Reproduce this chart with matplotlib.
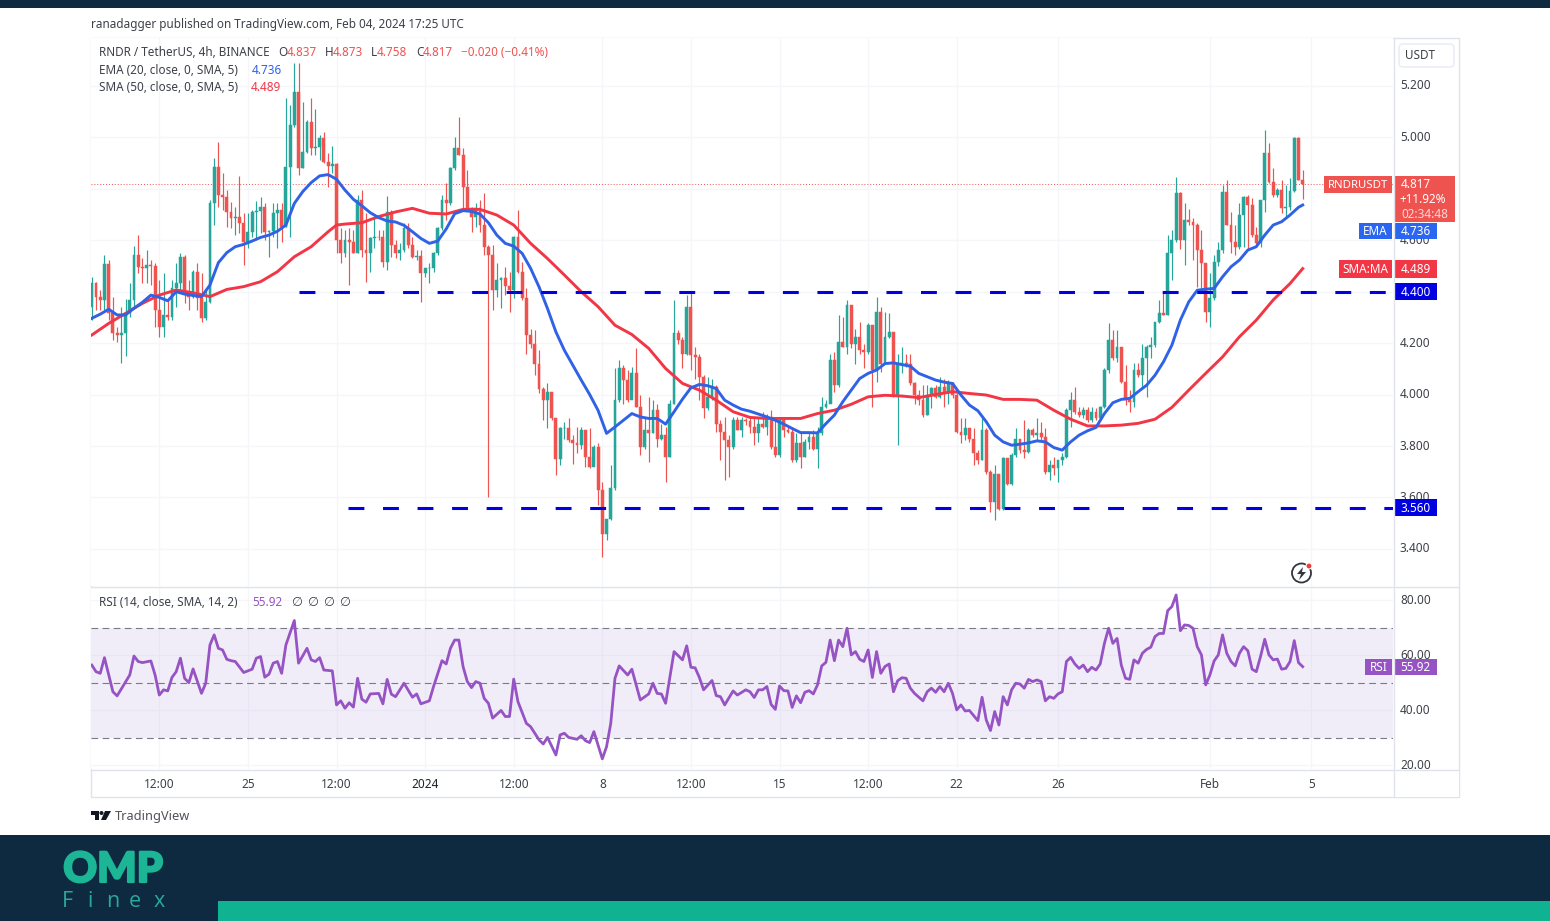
import numpy as np
import matplotlib
matplotlib.use("Agg")
import matplotlib.pyplot as plt
import matplotlib.patheffects as pe
from matplotlib.patches import Rectangle, FancyBboxPatch, Polygon, Circle

plt.rcParams['font.family'] = ['Noto Sans', 'DejaVu Sans']

first_open = 4.341
close = [
 4.432,4.380,4.367,4.507,4.315,4.237,4.231,4.240,4.315,4.367,
 4.542,4.496,4.490,4.503,4.499,4.328,4.263,4.309,4.300,4.412,
 4.432,4.535,4.393,4.380,4.477,4.373,4.296,4.360,4.742,4.885,
 4.775,4.768,4.710,4.684,4.690,4.667,4.594,4.632,4.710,4.712,
 4.730,4.632,4.634,4.704,4.717,4.652,4.885,5.047,5.176,4.878,
 4.943,5.060,4.956,4.963,4.995,4.904,4.887,4.895,4.600,4.548,
 4.600,4.594,4.548,4.755,4.561,4.548,4.606,4.613,4.611,4.516,
 4.710,4.581,4.548,4.561,4.645,4.581,4.535,4.538,4.471,4.490,
 4.492,4.548,4.645,4.755,4.742,4.878,4.956,4.930,4.807,4.723,
 4.691,4.723,4.658,4.574,4.540,4.405,4.444,4.451,4.420,4.405,
 4.613,4.477,4.373,4.230,4.198,4.120,4.023,3.978,4.010,3.907,
 3.751,3.868,3.870,3.823,3.810,3.803,3.861,3.758,3.719,3.797,
 3.628,3.460,3.518,3.635,3.978,4.101,4.056,3.978,4.082,3.952,
 3.797,3.861,3.850,3.939,3.829,3.842,3.758,3.965,4.237,4.211,
 4.159,4.341,4.153,4.146,4.069,3.946,3.991,4.030,3.887,3.855,
 3.823,3.797,3.900,3.861,3.900,3.898,3.874,3.849,3.887,3.874,
 3.913,3.797,3.764,3.900,3.861,3.855,3.745,3.810,3.758,3.816,
 3.836,3.790,3.849,3.952,3.965,4.133,4.036,4.205,4.185,4.347,
 4.198,4.224,4.172,4.166,4.269,4.095,4.321,4.120,4.224,4.243,
 3.997,4.120,4.123,4.120,4.043,3.997,3.978,3.920,3.998,4.024,
 3.991,4.030,4.010,4.043,3.998,3.855,3.842,3.868,3.829,3.771,
 3.745,3.862,3.700,3.583,3.693,3.557,3.752,3.654,3.764,3.829,
 3.784,3.777,3.862,3.842,3.849,3.836,3.700,3.726,3.713,3.745,
 3.758,3.939,3.978,3.933,3.920,3.939,3.900,3.933,3.907,3.952,
 4.095,4.211,4.140,4.185,4.049,3.978,3.972,4.095,4.075,4.140,
 4.185,4.192,4.282,4.315,4.308,4.548,4.600,4.781,4.600,4.678,
 4.671,4.658,4.561,4.509,4.321,4.373,4.516,4.561,4.788,4.658,
 4.593,4.574,4.697,4.768,4.736,4.619,4.587,4.755,4.937,4.826,
 4.775,4.794,4.723,4.727,4.791,4.995,4.833,4.817]
high = [
 4.457,4.438,4.406,4.542,4.522,4.380,4.263,4.340,4.370,4.432,
 4.577,4.620,4.529,4.561,4.522,4.509,4.445,4.470,4.367,4.445,
 4.509,4.548,4.542,4.445,4.483,4.509,4.470,4.412,4.755,4.917,
 4.982,4.859,4.794,4.749,4.730,4.849,4.704,4.704,4.717,4.752,
 4.768,4.742,4.639,4.742,4.742,4.742,5.150,5.124,5.286,5.286,
 5.137,5.066,5.150,5.110,5.008,5.021,4.937,4.965,4.898,4.645,
 4.639,4.645,4.639,4.775,4.794,4.704,4.613,4.684,4.639,4.639,
 4.771,4.717,4.600,4.587,4.665,4.665,4.613,4.561,4.561,4.490,
 4.509,4.555,4.652,4.775,4.820,4.885,5.001,5.079,4.956,4.872,
 4.730,4.742,4.755,4.781,4.580,4.580,4.509,4.457,4.496,4.477,
 4.615,4.716,4.515,4.412,4.256,4.250,4.172,4.030,4.043,4.010,
 3.907,3.874,3.894,3.907,3.842,3.874,3.874,3.829,3.868,3.803,
 3.810,3.660,3.518,3.725,4.101,4.133,4.114,4.094,4.108,4.179,
 3.997,3.907,3.991,3.978,3.965,3.887,3.874,3.978,4.367,4.250,
 4.224,4.386,4.399,4.185,4.159,4.075,4.069,4.062,4.036,3.900,
 3.913,3.842,3.913,3.913,3.913,3.907,3.913,3.913,3.913,3.933,
 3.926,3.939,3.907,3.907,3.913,3.874,3.874,3.849,3.855,3.829,
 3.855,3.861,3.874,3.991,3.978,4.159,4.166,4.308,4.300,4.367,
 4.347,4.256,4.282,4.198,4.276,4.269,4.379,4.340,4.321,4.315,
 4.243,4.159,4.185,4.159,4.159,4.049,4.017,4.036,4.036,4.030,
 4.036,4.069,4.062,4.056,4.049,4.004,3.907,3.907,3.842,3.868,
 3.784,3.907,3.868,3.706,3.726,3.693,3.758,3.752,3.771,3.868,
 3.829,3.901,3.868,3.868,3.907,3.894,3.868,3.745,3.758,3.745,
 3.771,3.946,4.011,4.030,3.952,3.952,3.952,3.952,3.946,3.955,
 4.101,4.276,4.250,4.250,4.185,4.114,4.017,4.121,4.121,4.198,
 4.192,4.224,4.250,4.367,4.393,4.619,4.639,4.846,4.788,4.742,
 4.720,4.684,4.665,4.639,4.509,4.470,4.541,4.593,4.813,4.833,
 4.710,4.658,4.742,4.771,4.775,4.762,4.652,4.755,5.027,4.975,
 4.878,4.801,4.833,4.813,4.839,5.001,5.001,4.873]
low = [
 4.289,4.328,4.328,4.328,4.289,4.211,4.205,4.122,4.150,4.300,
 4.341,4.471,4.432,4.432,4.425,4.263,4.225,4.225,4.289,4.289,
 4.341,4.393,4.354,4.328,4.373,4.328,4.283,4.289,4.354,4.658,
 4.730,4.717,4.652,4.645,4.619,4.626,4.503,4.568,4.613,4.600,
 4.626,4.600,4.535,4.613,4.568,4.594,4.652,4.613,5.040,4.853,
 4.878,4.937,4.930,4.930,4.911,4.898,4.805,4.859,4.548,4.509,
 4.535,4.425,4.548,4.548,4.535,4.438,4.477,4.568,4.600,4.496,
 4.483,4.535,4.529,4.522,4.555,4.568,4.529,4.522,4.360,4.457,
 4.432,4.477,4.542,4.639,4.678,4.736,4.872,4.930,4.723,4.717,
 4.632,4.652,4.632,4.542,3.600,4.328,4.379,4.334,4.386,4.321,
 4.373,4.470,4.367,4.159,4.179,4.075,4.004,3.900,3.868,3.900,
 3.687,3.725,3.829,3.816,3.732,3.771,3.790,3.719,3.713,3.738,
 3.570,3.370,3.434,3.512,3.628,3.972,3.965,3.972,4.010,3.952,
 3.764,3.790,3.738,3.849,3.797,3.823,3.661,3.758,3.965,4.198,
 4.101,4.153,4.094,4.062,3.978,3.907,3.939,3.978,3.855,3.745,
 3.667,3.680,3.790,3.861,3.836,3.881,3.849,3.803,3.816,3.868,
 3.842,3.790,3.758,3.758,3.836,3.849,3.738,3.738,3.713,3.758,
 3.790,3.784,3.713,3.842,3.946,3.978,4.010,4.030,4.185,4.159,
 4.179,4.120,4.159,4.101,4.159,3.952,4.049,4.088,4.133,4.218,
 3.991,3.803,4.082,4.108,4.036,3.965,3.959,3.913,3.920,3.946,
 3.985,3.985,3.952,3.965,3.985,3.849,3.810,3.823,3.816,3.726,
 3.732,3.745,3.693,3.544,3.512,3.551,3.551,3.648,3.648,3.758,
 3.771,3.752,3.771,3.836,3.823,3.823,3.693,3.667,3.687,3.661,
 3.726,3.752,3.875,3.926,3.913,3.907,3.894,3.894,3.900,3.913,
 3.946,4.082,4.134,4.127,4.043,3.959,3.933,3.952,4.069,4.030,
 3.991,4.140,4.185,4.276,4.308,4.308,4.444,4.593,4.567,4.503,
 4.658,4.522,4.419,4.406,4.283,4.263,4.367,4.500,4.548,4.658,
 4.548,4.541,4.567,4.574,4.567,4.613,4.580,4.574,4.710,4.820,
 4.768,4.768,4.703,4.684,4.716,4.788,4.833,4.758]

ema_bars = [0,2,4,6,8,10,12,14,16,18,20,22,24,26,28,30,32,34,36,38,40,42,44,46,48,50,52,54,56,58,
 60,62,64,66,68,70,72,74,76,78,80,82,84,86,88,90,92,94,96,98,100,102,104,106,108,110,112,114,116,118,
 120,122,124,126,128,130,132,134,136,138,140,142,144,146,148,150,152,154,156,158,160,162,164,166,168,170,172,174,176,178,
 180,182,184,186,188,190,192,194,196,198,200,202,204,206,208,210,212,214,216,218,220,222,224,226,228,230,232,234,236,238,
 240,242,244,246,248,250,252,254,256,258,260,262,264,266,268,270,272,274,276,278,280,282,284,286,287]
ema_vals = [4.296,4.312,4.331,4.309,4.309,4.335,4.358,4.386,4.377,4.364,4.399,4.390,4.385,4.380,4.425,4.512,4.551,4.574,4.583,4.596,4.610,4.619,4.634,4.658,4.742,4.788,4.823,4.849,4.854,4.836,
 4.794,4.758,4.733,4.706,4.687,4.674,4.670,4.657,4.632,4.606,4.587,4.596,4.643,4.702,4.714,4.711,4.701,4.667,4.619,4.587,4.576,4.548,4.490,4.418,4.334,4.243,4.172,4.114,4.056,4.000,
 3.938,3.849,3.874,3.900,3.926,3.913,3.907,3.907,3.885,3.933,3.982,4.026,4.039,4.034,4.023,3.978,3.959,3.943,3.935,3.924,3.913,3.900,3.885,3.868,3.852,3.852,3.851,3.887,3.920,3.972,
 4.017,4.062,4.082,4.095,4.120,4.123,4.116,4.110,4.082,4.069,4.056,4.048,4.043,3.998,3.959,3.937,3.894,3.842,3.816,3.803,3.807,3.812,3.820,3.816,3.794,3.784,3.816,3.842,3.859,3.872,
 3.926,3.968,3.981,3.985,4.011,4.036,4.075,4.127,4.192,4.289,4.360,4.405,4.409,4.412,4.457,4.496,4.522,4.561,4.574,4.619,4.658,4.671,4.697,4.727,4.736]

sma_bars = [0,4,8,12,16,20,24,28,32,36,40,44,48,52,56,58,60,64,68,72,76,80,84,88,92,96,100,104,108,112,116,120,124,128,132,136,140,144,148,152,156,160,164,168,172,176,180,184,188,192,196,
 200,204,208,212,216,220,224,228,232,236,240,244,248,252,256,260,264,268,272,276,280,284,287]
sma_vals = [4.231,4.276,4.315,4.354,4.386,4.406,4.395,4.380,4.408,4.419,4.438,4.477,4.535,4.574,4.632,4.658,4.662,4.667,4.691,4.709,4.723,4.704,4.701,4.719,4.719,4.697,4.658,4.587,4.528,4.464,4.399,4.341,4.269,4.233,4.179,4.101,4.043,4.017,3.978,3.933,3.911,3.907,3.907,3.907,3.926,3.939,3.962,3.991,3.997,3.994,3.988,
 4.000,4.011,4.004,3.998,3.981,3.981,3.978,3.939,3.904,3.878,3.878,3.881,3.888,3.904,3.950,4.017,4.082,4.146,4.224,4.289,4.367,4.431,4.489]

rsi_bars = [0,1,2,3,5,6,9,10,11,12,14,15,16,17,18,19,20,21,22,23,24,26,27,28,29,30,31,32,33,34,36,37,38,39,40,41,42,43,44,45,46,48,49,51,52,53,54,55,57,58,59,60,61,62,63,64,65,66,68,69,70,71,72,74,76,77,78,80,81,83,84,85,86,87,88,89,90,91,92,93,94,95,97,98,99,100,101,103,104,106,107,108,110,111,112,113,115,116,117,118,119,121,122,123,124,125,127,128,130,132,133,134,135,136,138,140,141,142,143,144,145,147,148,
 149,150,152,153,155,156,157,158,159,160,161,162,163,164,165,166,167,168,169,170,171,172,173,174,175,176,177,178,179,180,181,182,183,184,185,186,187,188,189,190,191,192,193,194,195,197,198,199,200,201,202,203,204,205,206,207,208,210,211,212,213,214,215,216,217,218,219,220,221,222,223,224,225,226,227,228,229,230,231,232,233,234,235,236,237,238,239,240,241,242,243,244,245,246,247,248,249,250,251,252,253,254,255,256,257,258,259,260,261,262,263,264,265,266,267,268,269,270,271,272,273,274,275,276,277,278,279,280,281,282,283,284,285,286,287]
rsi_vals = [56.5,54.1,53.5,59.2,46.8,45.3,52.9,59.8,57.8,57.4,58.0,52.9,45.6,47.5,47.1,52.0,54.1,59.0,51.7,50.1,55.1,46.2,49.9,63.8,67.5,62.6,62.0,58.6,58.1,57.8,53.8,54.4,55.0,59.0,59.6,52.1,53.2,57.2,57.8,53.5,63.8,72.7,57.2,62.6,58.4,57.8,59.2,54.7,54.4,42.0,43.5,40.8,42.8,41.2,51.7,44.1,43.0,46.0,46.2,42.4,51.3,45.9,45.0,49.9,44.8,46.0,42.4,43.5,48.7,58.1,56.9,62.6,65.6,65.6,55.9,50.5,48.3,50.5,49.9,44.4,42.6,37.2,40.0,37.8,37.8,51.4,43.2,35.3,34.1,29.3,27.8,30.2,23.8,31.1,31.7,30.2,29.5,30.8,29.0,28.3,32.3,22.4,26.8,35.3,51.7,56.2,52.9,55.0,43.8,46.0,49.9,46.2,46.0,42.6,61.4,58.4,63.5,55.7,55.5,52.0,47.5,50.9,45.4,
 45.0,42.0,47.1,45.6,47.5,46.8,44.7,47.5,47.5,48.7,42.2,40.4,48.9,47.2,47.1,41.1,45.3,42.8,46.6,47.2,46.0,49.3,56.2,57.5,65.6,58.1,65.6,63.2,69.9,60.2,61.4,58.6,57.8,62.0,52.0,61.4,53.5,56.0,56.9,46.8,50.8,51.9,51.7,48.1,46.2,43.5,46.8,48.1,46.6,48.7,46.8,49.9,46.2,40.2,42.0,39.8,40.0,36.3,44.8,36.5,32.7,39.6,34.7,45.0,42.0,47.5,49.9,49.6,48.1,51.3,50.5,51.1,50.5,43.5,45.0,44.4,46.0,46.8,57.8,59.3,56.9,55.3,56.5,54.1,55.7,54.7,56.9,64.4,69.9,64.4,66.2,56.5,51.7,51.3,58.4,57.2,60.8,62.2,63.0,66.9,68.0,68.0,76.3,77.8,82.0,69.0,71.1,70.9,69.9,63.2,60.2,49.3,52.9,58.0,60.2,67.5,60.8,57.8,56.2,60.8,63.2,61.7,55.0,54.1,59.6,65.9,60.2,58.4,58.7,55.0,55.3,57.8,65.4,57.4,55.92]

time_ticks = [16,37,58,79,100,121,142,163,184,205,229,265,289]
time_labels = ['12:00','25','12:00','2024','12:00','8','12:00','15','12:00','22','26','Feb','5']
price_ticks = [3.4,3.6,3.8,4.0,4.2,4.4,4.6,4.8,5.0,5.2]
price_labels = ['3.400','3.600','3.800','4.000','4.200','','4.600','','5.000','5.200']
rsi_ticks = [20,40,60,80]
rsi_levels = [70,50,30]
level_upper = 4.400
level_lower = 3.560
level_upper_start = 49
level_lower_start = 60.7

GREEN = '#26a69a'; RED = '#ef5350'; BLUE = '#2f62e6'; MA_RED = '#f23645'
PURPLE = '#9653c4'; LINE = '#e0e3eb'; GRID = '#f5f6fa'; TXT = '#3d4048'; NAVY = '#0e2a40'
TEAL = '#10b391'; LEVEL = '#0000e0'; TAGBLUE = '#2b66f0'

W, H = 1550, 921
fig = plt.figure(figsize=(15.5, 9.21), dpi=100, facecolor='white')

def px_axes(x0, y0, x1, y1, **kw):
    return fig.add_axes([x0/W, 1-y1/H, (x1-x0)/W, (y1-y0)/H], **kw)

bg = px_axes(0, 0, W, H, zorder=0)
bg.set_xlim(0, W); bg.set_ylim(H, 0); bg.axis('off')
bg.add_patch(Rectangle((0, 0), W, 8, color=NAVY, lw=0))
bg.add_patch(Rectangle((0, 835), W, 86, color=NAVY, lw=0))
bg.add_patch(Rectangle((218, 901), W-218, 20, color=TEAL, lw=0))
bg.add_patch(Rectangle((91, 38), 1368, 759, fc='white', ec=LINE, lw=1))

ax = px_axes(91, 38, 1393, 586, zorder=2)
rx = px_axes(91, 587, 1393, 769, zorder=2, sharex=ax)

x_left, x_right = -0.19, 308.4
bars = np.arange(len(close))
opens = np.array([first_open] + close[:-1])
closes = np.array(close)
colors = [GREEN if c >= o else RED for o, c in zip(opens, closes)]

ax.set_xlim(x_left, x_right)
ax.set_ylim(3.2563, 5.3845)
ax.vlines(bars, low, high, colors=colors, lw=0.85, zorder=3)
ax.bar(bars, np.abs(closes-opens), bottom=np.minimum(opens, closes), width=0.68,
       color=colors, edgecolor=colors, linewidth=0.35, zorder=3)
ax.axhline(close[-1], color=RED, lw=0.7, ls=(0, (1, 2)), zorder=2)
ax.plot(sma_bars, sma_vals, color=MA_RED, lw=2.1, zorder=4, solid_joinstyle='round')
ax.plot(ema_bars, ema_vals, color=BLUE, lw=2.1, zorder=5, solid_joinstyle='round')
dash = (0, (5.2, 6.1))
ax.plot([level_upper_start, x_right], [level_upper]*2, color=LEVEL, lw=2.2, ls=dash, dash_capstyle='butt', zorder=6)
ax.plot([level_lower_start, x_right], [level_lower]*2, color=LEVEL, lw=2.2, ls=dash, dash_capstyle='butt', zorder=6)

ax.set_yticks(price_ticks)
ax.set_yticklabels(price_labels)
ax.yaxis.tick_right()
ax.tick_params(axis='y', length=0, pad=5, labelsize=8.5, labelcolor=TXT)
for t in ax.get_yticklabels():
    t.set_va('center')
ax.set_xticks(time_ticks)
ax.tick_params(axis='x', length=0, labelbottom=False)
ax.grid(True, color=GRID, lw=1)
ax.set_axisbelow(True)

rx.axhspan(rsi_levels[2], rsi_levels[0], color='#7e57c2', alpha=0.1, lw=0, zorder=1)
for lv in rsi_levels:
    rx.axhline(lv, color='#787b86', lw=0.8, ls=(0, (6, 4)), zorder=2)
rx.plot(rsi_bars, rsi_vals, color=PURPLE, lw=2.0, zorder=4, solid_joinstyle='round')
rx.set_ylim(18.7, 84.9)
rx.set_yticks(rsi_ticks)
rx.set_yticklabels([f'{v:.2f}' for v in rsi_ticks])
rx.yaxis.tick_right()
rx.tick_params(axis='y', length=0, pad=5, labelsize=8.5, labelcolor=TXT)
for t in rx.get_yticklabels():
    t.set_va('center')
rx.set_xticks(time_ticks)
rx.set_xticklabels(time_labels)
rx.tick_params(axis='x', length=0, pad=6.5, labelsize=8.5, labelcolor=TXT)
for tick, name in zip(rx.xaxis.get_major_ticks(), time_labels):
    if name == '2024':
        tick.label1.set_fontweight('bold')
        tick.label1.set_color('#1d2027')
rx.grid(True, color=GRID, lw=1)
rx.set_axisbelow(True)
for a in (ax, rx):
    for s in a.spines.values():
        s.set_visible(False)

fg = px_axes(0, 0, W, H, zorder=5)
fg.set_xlim(0, W); fg.set_ylim(H, 0); fg.axis('off'); fg.patch.set_alpha(0)

# pane separators and the mask that clips the lowest RSI scale label
fg.add_patch(Rectangle((1394, 769.5), 64.5, 27, fc='white', lw=0))
fg.plot([91, 1459], [586.5, 586.5], color=LINE, lw=1)
fg.plot([91, 1459], [769.5, 769.5], color=LINE, lw=1)
fg.plot([1393.5, 1393.5], [38, 797], color=LINE, lw=1)

FS = 8.45
def label(x, y, s, color=TXT, size=FS, **kw):
    kw.setdefault('ha', 'left')
    return fg.text(x, y+0.8, s, color=color, fontsize=size, va='center', **kw)

label(91, 24, 'ranadagger published on TradingView.com, Feb 04, 2024 17:25 UTC')
label(99, 52, 'RNDR / TetherUS, 4h, BINANCE')
for xl, ch, xv, val in [(278, 'O', 287, '4.837'), (325, 'H', 333, '4.873'),
                        (371, 'L', 377, '4.758'), (416, 'C', 423, '4.817')]:
    label(xl, 52, ch)
    label(xv, 52, val, color=RED)
label(461, 52, '\u22120.020 (\u22120.41%)', color=RED)
label(99, 70, 'EMA (20, close, 0, SMA, 5)')
label(252, 70, '4.736', color=BLUE)
label(99, 87, 'SMA (50, close, 0, SMA, 5)')
label(251, 87, '4.489', color=MA_RED)
label(99, 602, 'RSI (14, close, SMA, 14, 2)')
label(252, 602, '55.92', color=PURPLE)
for xz in (291, 307, 323, 339):
    label(xz, 602, '\u2205', family='DejaVu Sans', size=9)

def tag(x0, x1, y0, y1, color, text=None, tc='white', size=FS):
    fg.add_patch(Rectangle((x0, y0), x1-x0, y1-y0, fc=color, lw=0))
    if text:
        fg.text((x0+x1)/2, (y0+y1)/2+0.6, text, color=tc, fontsize=size, ha='center', va='center')

tag(1324, 1392, 176, 193, RED, 'RNDRUSDT', size=8.2)
tag(1394, 1455, 176, 222, RED)
fg.text(1416, 185, '4.817', color='white', fontsize=FS, ha='center', va='center')
fg.text(1423, 199.5, '+11.92%', color='white', fontsize=FS, ha='center', va='center')
fg.text(1425, 214, '02:34:48', color='#fbd9d8', fontsize=FS, ha='center', va='center')
tag(1359, 1392, 222.5, 239, TAGBLUE, 'EMA')
tag(1394, 1437, 222.5, 239, TAGBLUE, '4.736')
tag(1339, 1392, 260, 278, MA_RED, 'SMA:MA')
tag(1394, 1437, 260, 278, MA_RED, '4.489')
tag(1394, 1437, 283, 300, LEVEL, '4.400')
tag(1394, 1437, 499, 516, LEVEL, '3.560')
tag(1365, 1392, 659, 675, PURPLE, 'RSI')
tag(1394, 1437, 659, 675, PURPLE, '55.92')

fg.add_patch(FancyBboxPatch((1399, 44), 55, 23, boxstyle='round,pad=0,rounding_size=4', fc='white', ec='#eceef3', lw=1.2))
label(1420, 55, 'USDT', ha='center')

# replay icon
fg.add_patch(Circle((1301.5, 573), 9.5, fc='white', ec='#333640', lw=1.3))
fg.add_patch(Polygon([(1303, 567), (1297, 574), (1301, 574), (1299, 580), (1306, 572), (1302, 572)], fc='#333640', lw=0))
fg.add_patch(Circle((1309, 566), 3, fc='#ef3b3b', ec='white', lw=0.8))

# TradingView mark and name
fg.add_patch(Polygon([(91, 811), (99, 811), (99, 820), (95, 820), (95, 815), (91, 815)], fc='#131722', lw=0))
fg.add_patch(Circle((101.5, 813), 2, fc='#131722', lw=0))
fg.add_patch(Polygon([(105, 811), (111, 811), (106, 820), (101, 820)], fc='#131722', lw=0))
label(115, 815.5, 'TradingView', color='#50535b', size=9.2)

# OMP Finex logo
omp = fg.text(113, 870, 'OMP', color='#1cb596', fontsize=30, fontweight='black', family='Lato', ha='center', va='center')
omp.set_path_effects([pe.withStroke(linewidth=1.6, foreground='#1cb596')])
for xl, ch in zip((62, 87, 106, 129, 154), 'Finex'):
    fg.text(xl, 901, ch, color='#2aa898', fontsize=15.5, family='Open Sans', fontweight='normal', ha='left', va='center')

fig.savefig('out.png', dpi=100, facecolor='white')
